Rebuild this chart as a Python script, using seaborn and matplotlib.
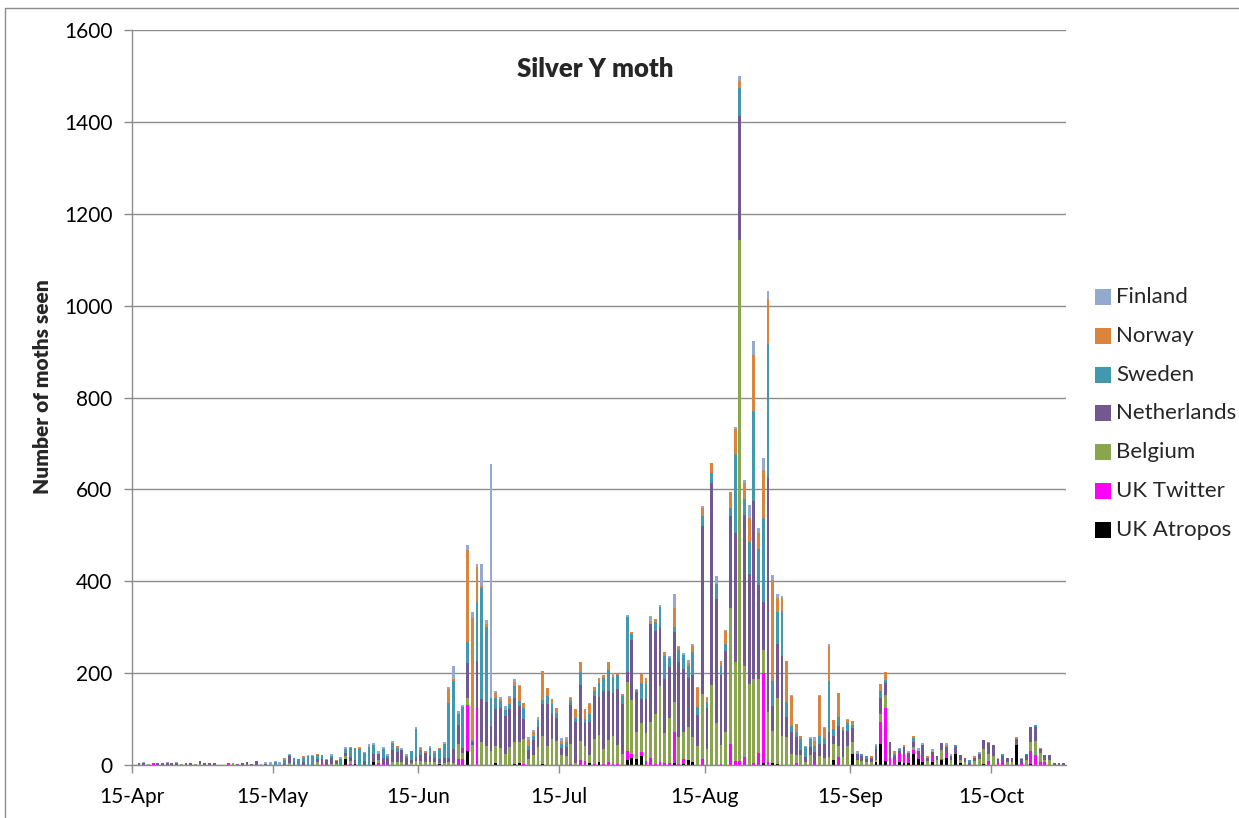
import numpy as np
import pandas as pd
import seaborn as sns
import matplotlib.pyplot as plt
from matplotlib.patches import Rectangle
from matplotlib.lines import Line2D

# --- data: daily counts from 15-Apr, one value per day ---
start_date = "2019-04-15"
n_days = 199

countries = ["Finland", "Norway", "Sweden", "Netherlands",
             "Belgium", "UK Twitter", "UK Atropos"]

finland = [
    0, 0, 2, 3, 0, 0, 0, 2, 0, 2,
    0, 0, 0, 0, 0, 0, 0, 0, 0, 0,
    0, 0, 0, 0, 1, 0, 1, 3, 3, 6,
    3, 6, 0, 3, 0, 0, 0, 3, 2, 0,
    0, 4, 3, 0, 4, 5, 0, 2, 2, 3,
    5, 4, 6, 5, 3, 4, 0, 4, 3, 0,
    5, 4, 0, 4, 0, 0, 3, 5, 29, 6,
    3, 13, 15, 7, 47, 9, 510, 6, 5, 10,
    6, 6, 2, 0, 6, 5, 7, 0, 0, 0,
    0, 5, 5, 4, 0, 0, 0, 2, 0, 0,
    0, 0, 3, 0, 0, 4, 0, 2, 0, 0,
    10, 0, 5, 0, 5, 31, 2, 5, 6, 6,
    3, 5, 2, 0, 18, 0, 2, 0, 3, 10,
    7, 29, 30, 10, 25, 18, 12, 8, 3, 0,
    3, 0, 0, 3, 5, 9, 3, 2, 4, 0,
    0, 0, 2, 0, 5, 0, 0, 0, 4, 0,
    0, 0, 0, 3, 0, 4, 0, 5, 3, 0,
    5, 0, 0, 3, 5, 0, 0, 0, 0, 0,
    5, 0, 0, 0, 3, 0, 0, 0, 0, 4,
    0, 0, 0, 0, 0, 0, 0, 0, 0]

norway = [
    0, 0, 0, 0, 0, 0, 0, 0, 0, 0,
    0, 0, 0, 0, 0, 0, 0, 0, 0, 0,
    0, 0, 0, 0, 0, 0, 0, 0, 0, 0,
    0, 0, 4, 0, 0, 0, 4, 0, 0, 3,
    0, 0, 0, 3, 0, 0, 3, 0, 3, 0,
    0, 0, 0, 0, 0, 0, 4, 0, 0, 0,
    0, 3, 3, 0, 3, 3, 0, 30, 4, 0,
    0, 200, 265, 76, 4, 7, 0, 11, 4, 0,
    12, 10, 33, 11, 12, 7, 0, 64, 16, 11,
    9, 8, 5, 6, 20, 22, 20, 22, 9, 12,
    6, 19, 8, 4, 4, 0, 4, 0, 20, 13,
    6, 6, 0, 7, 0, 41, 6, 0, 7, 11,
    40, 18, 8, 22, 0, 12, 28, 34, 56, 17,
    34, 52, 121, 34, 106, 97, 220, 30, 28, 90,
    65, 18, 7, 0, 0, 11, 87, 23, 76, 20,
    52, 6, 7, 9, 0, 0, 0, 4, 0, 15,
    18, 0, 5, 0, 4, 0, 5, 0, 0, 5,
    0, 0, 0, 5, 0, 0, 0, 0, 0, 4,
    0, 0, 4, 0, 0, 0, 0, 0, 5, 0,
    0, 0, 0, 4, 0, 0, 0, 0, 0]

sweden = [
    0, 0, 0, 0, 0, 0, 0, 0, 0, 0,
    0, 0, 0, 0, 0, 0, 0, 0, 0, 0,
    0, 0, 0, 0, 0, 0, 0, 0, 0, 0,
    6, 0, 8, 3, 10, 13, 10, 19, 20, 8,
    10, 0, 5, 0, 13, 8, 20, 25, 35, 18,
    40, 20, 0, 20, 5, 16, 10, 0, 5, 20,
    60, 12, 0, 18, 12, 22, 30, 120, 149, 25,
    90, 46, 5, 127, 242, 162, 60, 23, 15, 12,
    11, 26, 11, 25, 9, 9, 15, 9, 18, 22,
    12, 7, 10, 9, 9, 29, 9, 17, 11, 30,
    28, 45, 33, 30, 17, 120, 13, 4, 36, 33,
    0, 20, 42, 51, 18, 11, 27, 29, 25, 50,
    19, 20, 15, 23, 33, 20, 15, 18, 170, 60,
    34, 69, 197, 79, 182, 289, 54, 71, 98, 33,
    13, 11, 25, 22, 18, 13, 18, 12, 111, 15,
    20, 3, 17, 6, 0, 5, 5, 0, 8, 16,
    6, 0, 5, 4, 0, 0, 9, 0, 0, 0,
    0, 0, 0, 0, 0, 4, 0, 0, 6, 0,
    0, 0, 0, 0, 0, 4, 0, 0, 0, 0,
    3, 0, 4, 0, 0, 0, 0, 0, 0]

netherlands = [
    0, 4, 5, 0, 0, 4, 4, 5, 4, 4,
    0, 4, 4, 0, 7, 4, 4, 4, 0, 0,
    0, 0, 3, 4, 6, 3, 8, 0, 3, 0,
    0, 0, 3, 15, 6, 0, 6, 0, 0, 8,
    8, 10, 12, 5, 0, 8, 8, 6, 0, 8,
    0, 16, 14, 12, 15, 25, 22, 25, 15, 6,
    10, 12, 20, 12, 8, 8, 12, 8, 30, 40,
    10, 76, 5, 104, 94, 96, 55, 80, 87, 83,
    82, 96, 78, 44, 19, 34, 42, 69, 91, 54,
    49, 16, 20, 85, 88, 121, 51, 71, 93, 83,
    128, 106, 92, 122, 109, 22, 132, 87, 51, 74,
    214, 180, 129, 118, 112, 152, 162, 138, 108, 135,
    67, 366, 88, 438, 270, 152, 177, 200, 281, 270,
    330, 239, 387, 205, 105, 512, 54, 118, 174, 44,
    47, 38, 11, 10, 18, 22, 25, 30, 54, 18,
    44, 56, 34, 29, 15, 10, 8, 10, 24, 35,
    25, 34, 8, 7, 16, 11, 10, 8, 28, 7,
    9, 10, 15, 12, 10, 16, 11, 8, 5, 8,
    10, 19, 22, 23, 8, 11, 10, 8, 12, 8,
    12, 34, 31, 7, 12, 12, 5, 5, 4]

belgium = [
    0, 0, 0, 0, 0, 0, 0, 0, 0, 0,
    3, 0, 0, 3, 2, 0, 0, 0, 0, 0,
    0, 4, 0, 0, 0, 0, 0, 0, 0, 0,
    0, 0, 0, 4, 0, 0, 0, 0, 0, 6,
    0, 0, 3, 3, 0, 5, 7, 0, 0, 0,
    0, 0, 5, 0, 0, 7, 6, 7, 0, 4,
    8, 9, 7, 7, 7, 3, 4, 7, 4, 33,
    14, 15, 44, 0, 50, 42, 30, 38, 38, 24,
    40, 46, 46, 53, 14, 21, 40, 60, 42, 57,
    53, 22, 20, 42, 5, 43, 32, 18, 54, 58,
    31, 49, 62, 40, 24, 150, 116, 58, 63, 62,
    78, 108, 165, 65, 98, 67, 59, 58, 71, 55,
    41, 143, 35, 175, 91, 40, 71, 297, 217, 1135,
    197, 177, 182, 160, 49, 110, 70, 142, 64, 60,
    25, 18, 21, 7, 21, 0, 20, 16, 18, 36,
    23, 17, 41, 27, 10, 9, 6, 6, 4, 17,
    28, 0, 0, 0, 0, 0, 7, 0, 0, 8,
    0, 10, 20, 0, 10, 0, 7, 7, 0, 8,
    13, 33, 17, 20, 0, 0, 6, 7, 0, 0,
    10, 18, 30, 20, 3, 10, 0, 0, 0]

uk_twitter = [
    0, 0, 0, 0, 4, 0, 0, 0, 0, 0,
    0, 0, 0, 0, 0, 0, 0, 0, 0, 0,
    4, 0, 0, 0, 0, 0, 0, 0, 0, 0,
    0, 0, 0, 0, 0, 0, 0, 0, 0, 0,
    4, 0, 0, 0, 0, 0, 2, 3, 0, 0,
    0, 0, 5, 3, 0, 0, 0, 0, 0, 0,
    0, 0, 0, 0, 0, 0, 0, 0, 0, 13,
    13, 99, 0, 123, 0, 0, 0, 0, 0, 0,
    0, 0, 0, 3, 0, 0, 0, 0, 0, 0,
    0, 0, 0, 3, 0, 10, 9, 0, 3, 0,
    3, 6, 2, 3, 0, 20, 10, 0, 10, 8,
    16, 3, 7, 4, 4, 67, 3, 11, 0, 0,
    0, 12, 0, 0, 0, 3, 0, 45, 8, 8,
    18, 0, 5, 27, 196, 6, 0, 0, 0, 0,
    0, 4, 0, 0, 0, 7, 0, 0, 0, 0,
    18, 0, 0, 0, 0, 0, 0, 0, 0, 47,
    116, 16, 12, 18, 18, 11, 9, 11, 9, 0,
    13, 0, 1, 11, 0, 0, 0, 0, 0, 0,
    0, 0, 8, 0, 5, 8, 0, 0, 0, 4,
    0, 28, 22, 7, 7, 0, 0, 0, 0]

uk_atropos = [
    0, 0, 0, 0, 0, 0, 0, 0, 0, 0,
    0, 0, 0, 0, 0, 0, 0, 0, 0, 0,
    0, 0, 0, 0, 0, 0, 0, 0, 0, 0,
    0, 0, 0, 0, 0, 0, 0, 0, 0, 0,
    0, 0, 0, 0, 0, 14, 0, 2, 0, 0,
    0, 7, 0, 0, 0, 0, 0, 0, 0, 0,
    0, 0, 0, 0, 0, 2, 0, 0, 0, 0,
    0, 31, 0, 0, 0, 0, 0, 4, 0, 0,
    0, 3, 5, 0, 0, 0, 0, 3, 0, 0,
    0, 0, 0, 0, 0, 0, 0, 4, 0, 7,
    0, 0, 0, 0, 0, 10, 15, 14, 19, 0,
    0, 0, 0, 0, 0, 4, 0, 3, 11, 7,
    0, 0, 0, 0, 0, 0, 0, 0, 0, 0,
    0, 0, 0, 0, 5, 0, 4, 3, 0, 0,
    0, 0, 0, 0, 0, 0, 0, 0, 0, 10,
    0, 0, 0, 24, 0, 0, 0, 0, 6, 46,
    9, 0, 0, 6, 5, 4, 23, 12, 7, 0,
    7, 0, 11, 16, 0, 23, 4, 0, 0, 0,
    0, 2, 0, 0, 0, 0, 0, 0, 44, 0,
    0, 3, 0, 0, 0, 0, 0, 0, 0]

tick_dates = ["2019-04-15", "2019-05-15", "2019-06-15", "2019-07-15",
              "2019-08-15", "2019-09-15", "2019-10-15"]

colours = {
    "Finland": "#93A9CF",
    "Norway": "#DB843D",
    "Sweden": "#4198AF",
    "Netherlands": "#71588F",
    "Belgium": "#89A54E",
    "UK Twitter": "#FF00FF",
    "UK Atropos": "#000000",
}

# --- long table for seaborn ---
series = dict(zip(countries, [finland, norway, sweden, netherlands,
                              belgium, uk_twitter, uk_atropos]))
day = np.arange(n_days)
long_df = pd.concat(
    [pd.DataFrame({"day": day, "country": name, "count": vals})
     for name, vals in series.items()],
    ignore_index=True)

sns.set_theme(style="white")
plt.rcParams['font.family'] = ['Lato', 'DejaVu Sans']

W, H = 1239, 818
grey = "#8c8c8c"
fig = plt.figure(figsize=(W / 100, H / 100), dpi=100)
ax = fig.add_axes([132 / W, 1 - 765 / H, (1066 - 132) / W, (765 - 30) / H])

# first hue level ends up on top of the stack
sns.histplot(data=long_df, x="day", weights="count", hue="country",
             hue_order=countries, palette=colours, multiple="stack",
             discrete=True, shrink=0.6, linewidth=0, alpha=1,
             legend=False, ax=ax)

# axes
ax.set_xlim(-0.5, n_days - 0.5)
ax.set_ylim(0, 1600)
ax.set_yticks(np.arange(0, 1601, 200))
start = pd.Timestamp(start_date)
tpos = [(pd.Timestamp(d) - start).days - 0.5 for d in tick_dates]
ax.set_xticks(tpos)
ax.set_xticklabels([pd.Timestamp(d).strftime("%d-%b") for d in tick_dates])
ax.tick_params(axis="both", labelsize=15, colors="black")
ax.tick_params(axis="x", bottom=True, length=6, width=1, color=grey, pad=10)
ax.tick_params(axis="y", left=True, length=6, width=1, color=grey, pad=8)

ax.yaxis.grid(True, color=grey, linewidth=1)
ax.set_axisbelow(True)
for side in ["top", "right"]:
    ax.spines[side].set_visible(False)
for side in ["left", "bottom"]:
    ax.spines[side].set_color(grey)
    ax.spines[side].set_linewidth(1)

ax.set_xlabel("")
ax.set_ylabel("Number of moths seen", fontsize=15, fontweight="heavy")
ax.yaxis.set_label_coords(-(132 - 52) / 934, 0.5 + (397 - 386) / 735)

ax.text(0.496, 0.947, "Silver Y moth", transform=ax.transAxes,
        ha="center", va="center", fontsize=18.5, fontweight="heavy")

# legend on the right
for i, name in enumerate(countries):
    yc = 297 + i * 38.8
    fig.add_artist(Rectangle((1095 / W, 1 - (yc + 8) / H), 16 / W, 16 / H,
                             transform=fig.transFigure, color=colours[name],
                             linewidth=0))
    fig.text(1116 / W, 1 - yc / H, name, va="center", ha="left", fontsize=16)

# chart area border
fig.add_artist(Line2D([5 / W, 5 / W], [0, 1 - 8 / H], color=grey, lw=1,
                      transform=fig.transFigure))
fig.add_artist(Line2D([5 / W, 1], [1 - 8 / H, 1 - 8 / H], color=grey, lw=1,
                      transform=fig.transFigure))

fig.savefig("out.png", dpi=100)
